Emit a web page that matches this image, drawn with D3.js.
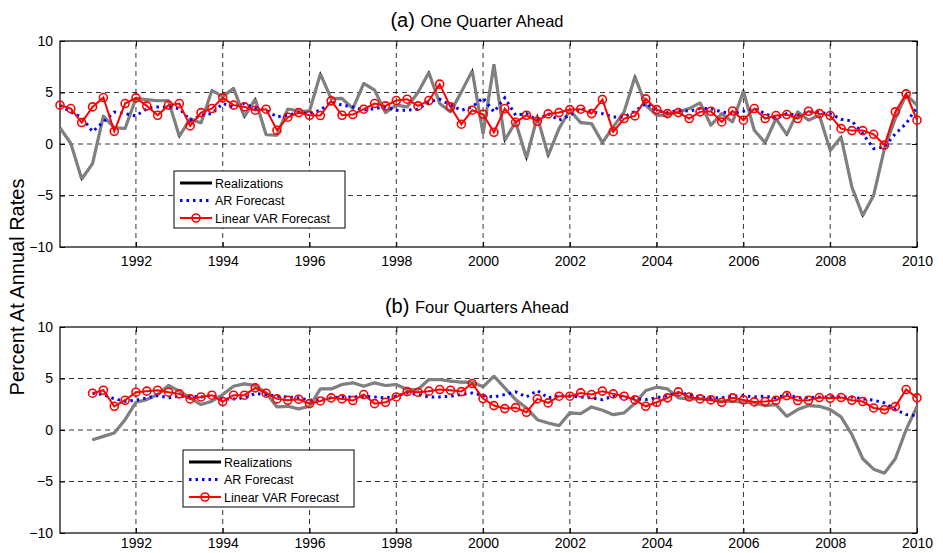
<!DOCTYPE html>
<html>
<head>
<meta charset="utf-8">
<script src="https://cdn.jsdelivr.net/npm/d3@7"></script>
<style>
  body { margin: 0; background: #fff; }
  svg { font-family: "Liberation Sans", Arial, Helvetica, sans-serif; }
</style>
</head>
<body>
<div id="chart"></div>
<script>
var width = 943
var height = 553

// quarterly values, panel (a) starts 1990.25, panel (b) starts 1991.0
var startA = 1990.25
var realA = [1.56, 0.05, -3.4, -1.9, 2.7, 1.6, 1.5, 4.45, 4.3, 4.2, 4.2, 0.75, 2.45, 2.05, 5.2, 4.6,
  5.4, 2.65, 4.35, 0.9, 0.85, 3.4, 3.2, 3.2, 6.8, 4.4, 4.42, 3.44, 5.88, 5.23, 3.05, 3.77,
  3.6, 5.0, 6.95, 3.93, 3.12, 5.06, 7.1, 1.0, 7.73, 0.36, 2.14, -1.36, 2.63, -1.1, 1.5, 3.28,
  2.08, 1.98, 0.13, 1.66, 3.12, 6.53, 3.77, 2.79, 2.79, 3.12, 3.44, 4.0, 1.82, 2.95, 2.14, 5.13,
  1.33, 0.13, 2.47, 0.91, 3.12, 2.31, 2.79, -0.62, 0.68, -4.19, -6.95, -5.0, -0.45, 2.47, 4.8, 3.77]
var arA = [3.77, 3.1, 2.6, 1.2, 2.14, 3.1, 2.95, 2.73, 3.44, 3.6, 3.6, 3.44, 2.3, 2.79, 2.95, 3.93,
  3.6, 3.93, 3.44, 3.28, 2.63, 2.79, 3.05, 2.95, 3.28, 4.09, 3.77, 3.6, 3.28, 3.44, 3.6, 3.28,
  3.28, 3.38, 4.09, 4.35, 3.77, 3.28, 3.6, 4.48, 3.12, 4.48, 2.79, 2.95, 2.3, 2.95, 2.3, 2.79,
  3.44, 3.12, 2.95, 2.63, 2.63, 3.18, 3.93, 3.28, 3.05, 3.28, 3.18, 3.44, 3.44, 3.12, 2.95, 3.18,
  3.44, 2.95, 2.47, 2.95, 2.79, 3.12, 3.05, 2.95, 2.4, 2.24, 1.0, -0.45, -0.3, 1.0, 1.98, 3.6]
var varA = [3.77, 3.44, 2.08, 3.6, 4.51, 1.23, 3.93, 4.48, 3.7, 2.79, 3.77, 3.93, 1.75, 3.05, 3.44, 4.48,
  3.77, 3.6, 3.28, 3.38, 1.33, 2.6, 3.05, 2.79, 2.76, 4.19, 2.79, 2.86, 3.38, 3.93, 3.7, 4.22,
  4.35, 3.7, 4.22, 5.81, 3.6, 1.92, 3.28, 2.89, 1.14, 3.44, 2.11, 2.79, 2.21, 2.92, 3.05, 3.34,
  3.38, 2.95, 4.32, 1.2, 2.47, 2.73, 4.38, 3.34, 2.95, 3.05, 2.47, 3.12, 3.18, 2.14, 3.21, 2.31,
  3.44, 2.47, 2.76, 2.86, 2.47, 3.18, 2.95, 2.76, 1.49, 1.3, 1.3, 0.94, -0.1, 3.12, 4.87, 2.31]

var startB = 1991.0
var realB = [-0.94, -0.62, -0.29, 1.0, 2.69, 2.95, 3.44, 4.32, 3.77, 3.12, 2.47, 2.79, 3.44, 4.25, 4.48, 4.32,
  3.6, 2.24, 2.3, 2.05, 2.3, 3.99, 3.99, 4.42, 4.58, 4.25, 4.58, 4.32, 4.42, 3.93, 3.93, 4.9,
  4.9, 4.74, 4.64, 4.64, 4.19, 5.23, 4.09, 2.95, 2.14, 1.0, 0.68, 0.42, 1.66, 1.59, 2.24, 1.92,
  1.49, 1.66, 2.6, 3.83, 4.16, 3.99, 3.12, 3.02, 3.02, 2.95, 2.79, 2.79, 2.69, 2.63, 2.37, 2.47,
  1.33, 1.98, 2.37, 2.3, 1.98, 1.27, -0.45, -2.79, -3.8, -4.19, -2.79, 0.03, 2.3]
var arB = [3.57, 3.44, 3.02, 2.79, 2.89, 3.12, 3.34, 3.12, 3.28, 3.28, 3.21, 3.34, 3.02, 3.02, 3.12, 3.54,
  3.44, 3.28, 3.21, 3.12, 2.89, 2.95, 3.12, 3.21, 3.21, 3.28, 3.21, 3.12, 3.28, 3.6, 3.44, 3.21,
  3.21, 3.28, 3.44, 3.6, 3.34, 3.21, 3.44, 3.7, 3.21, 3.83, 3.12, 3.34, 3.28, 3.21, 3.12, 2.95,
  3.28, 3.21, 3.02, 2.95, 3.12, 3.34, 3.6, 3.44, 3.21, 3.12, 3.12, 3.28, 3.34, 3.21, 3.28, 3.12,
  3.44, 3.12, 3.12, 3.21, 3.21, 3.21, 3.21, 3.02, 2.89, 2.63, 1.98, 1.49, 1.4]
var varB = [3.57, 3.86, 2.3, 2.89, 3.67, 3.77, 3.86, 3.67, 3.51, 3.02, 3.21, 3.38, 2.76, 3.38, 3.38, 4.09,
  3.57, 3.02, 2.89, 2.99, 2.56, 2.82, 3.12, 3.02, 2.86, 3.44, 2.56, 2.69, 3.21, 3.73, 3.67, 3.77,
  3.93, 3.86, 3.73, 4.51, 3.05, 2.37, 2.08, 2.17, 1.72, 3.02, 2.63, 3.28, 3.28, 3.6, 3.44, 3.77,
  3.51, 3.28, 2.92, 2.3, 2.69, 3.12, 3.7, 3.21, 3.02, 2.92, 2.69, 3.12, 2.92, 2.73, 2.76, 2.89,
  3.34, 2.86, 2.89, 3.15, 3.08, 3.15, 2.89, 2.76, 2.14, 1.98, 2.27, 3.93, 3.12]

var yearTicks = [1992, 1994, 1996, 1998, 2000, 2002, 2004, 2006, 2008, 2010]
var valueTicks = [-10, -5, 0, 5, 10]
var seriesNames = ["Realizations", "AR Forecast", "Linear VAR Forecast"]

var margin = {left: 60, right: 26}
var panels = [
  {tag: "(a)", title: "One Quarter Ahead", top: 41, start: startA, real: realA, ar: arA, vr: varA, legend: [174, 171], pad: 9},
  {tag: "(b)", title: "Four Quarters Ahead", top: 327, start: startB, real: realB, ar: arB, vr: varB, legend: [183, 450], pad: 5}
]
var plotH = 206

var svg = d3.select("#chart").append("svg")
  .attr("width", width)
  .attr("height", height)

var x = d3.scaleLinear()
  .domain([1990.25, 2010])
  .range([margin.left, width - margin.right])

function toPoints(vals, start) {
  return vals.map((v, i) => ({t: start + i * 0.25, v: v}))
}

panels.forEach(p => {
  var y = d3.scaleLinear().domain([-10, 10]).range([p.top + plotH, p.top])
  var g = svg.append("g")

  // title
  g.append("text")
    .attr("x", 477).attr("y", p.top - 14)
    .attr("text-anchor", "middle")
    .call(t => t.append("tspan").attr("font-size", 20).text(p.tag + " "))
    .call(t => t.append("tspan").attr("font-size", 16.5).text(p.title))

  // grid
  g.append("g")
    .attr("stroke", "#000").attr("stroke-width", 0.8).attr("stroke-dasharray", "5,4")
    .call(gg => gg.selectAll(".gx").data(yearTicks.slice(0, -1)).join("line")
      .attr("x1", d => x(d)).attr("x2", d => x(d))
      .attr("y1", y(-10)).attr("y2", y(10)))
    .call(gg => gg.selectAll(".gy").data(valueTicks.slice(1, -1)).join("line")
      .attr("x1", x.range()[0]).attr("x2", x.range()[1])
      .attr("y1", d => y(d)).attr("y2", d => y(d)))

  // axes (ticks pointing in, like matlab)
  var xAx = g.append("g").attr("transform", `translate(0,${y(-10)})`)
    .call(d3.axisBottom(x).tickValues(yearTicks).tickSizeInner(-5).tickSizeOuter(0).tickPadding(p.pad).tickFormat(d3.format("d")))
  var xTop = g.append("g").attr("transform", `translate(0,${y(10)})`)
    .call(d3.axisTop(x).tickValues(yearTicks).tickSizeInner(-5).tickSizeOuter(0).tickFormat(""))
  var yAx = g.append("g").attr("transform", `translate(${x.range()[0]},0)`)
    .call(d3.axisLeft(y).tickValues(valueTicks).tickSizeInner(-5).tickSizeOuter(0).tickPadding(7))
  var yR = g.append("g").attr("transform", `translate(${x.range()[1]},0)`)
    .call(d3.axisRight(y).tickValues(valueTicks).tickSizeInner(-5).tickSizeOuter(0).tickFormat(""))
  ;[xAx, xTop, yAx, yR].forEach(a => {
    a.select(".domain").remove()
    a.selectAll("text").attr("font-size", 14).attr("fill", "#000").attr("font-family", "Liberation Sans, Arial, sans-serif")
    a.selectAll("line").attr("stroke", "#000")
  })

  g.append("rect")
    .attr("x", x.range()[0]).attr("y", p.top)
    .attr("width", x.range()[1] - x.range()[0]).attr("height", plotH)
    .attr("fill", "none").attr("stroke", "#000").attr("stroke-width", 1.2)

  var line = d3.line().x(d => x(d.t)).y(d => y(d.v))
  var realPts = toPoints(p.real, p.start)

  // realization: black underneath, grey over it
  g.append("path").datum(realPts).attr("d", line)
    .attr("fill", "none").attr("stroke", "#000").attr("stroke-width", 2).attr("stroke-linejoin", "miter")
  g.append("path").datum(realPts).attr("d", line)
    .attr("fill", "none").attr("stroke", "#808080").attr("stroke-width", 3.2).attr("stroke-linejoin", "bevel")

  g.append("path").datum(toPoints(p.ar, p.start)).attr("d", line)
    .attr("fill", "none").attr("stroke", "#0000ff").attr("stroke-width", 3)
    .attr("stroke-dasharray", "2.5,4")

  var varPts = toPoints(p.vr, p.start)
  g.append("path").datum(varPts).attr("d", line)
    .attr("fill", "none").attr("stroke", "#ff0000").attr("stroke-width", 2)
  g.append("g").selectAll("circle").data(varPts).join("circle")
    .attr("cx", d => x(d.t)).attr("cy", d => y(d.v)).attr("r", 4)
    .attr("fill", "none").attr("stroke", "#ff0000").attr("stroke-width", 1.6)

  // legend
  var lx = p.legend[0], ly = p.legend[1]
  var lg = g.append("g").attr("transform", `translate(${lx},${ly})`)
  lg.append("rect").attr("width", 171).attr("height", 57)
    .attr("fill", "#fff").attr("stroke", "#000").attr("stroke-width", 1)
  seriesNames.forEach((name, i) => {
    var ry = 12 + i * 17.5
    var sample = lg.append("line").attr("x1", 6).attr("x2", 38).attr("y1", ry).attr("y2", ry)
    if (i == 0) sample.attr("stroke", "#000").attr("stroke-width", 3)
    if (i == 1) sample.attr("stroke", "#0000ff").attr("stroke-width", 3).attr("stroke-dasharray", "2.5,4")
    if (i == 2) {
      sample.attr("stroke", "#ff0000").attr("stroke-width", 2)
      lg.append("circle").attr("cx", 22).attr("cy", ry).attr("r", 4)
        .attr("fill", "none").attr("stroke", "#ff0000").attr("stroke-width", 1.6)
    }
    lg.append("text").attr("x", 41).attr("y", ry + 4.5).attr("font-size", 12.5).text(name)
  })
})

svg.append("text")
  .attr("transform", `translate(24,${(41 + 533) / 2}) rotate(-90)`)
  .attr("text-anchor", "middle")
  .attr("font-size", 20)
  .text("Percent At Annual Rates")
</script>
</body>
</html>
